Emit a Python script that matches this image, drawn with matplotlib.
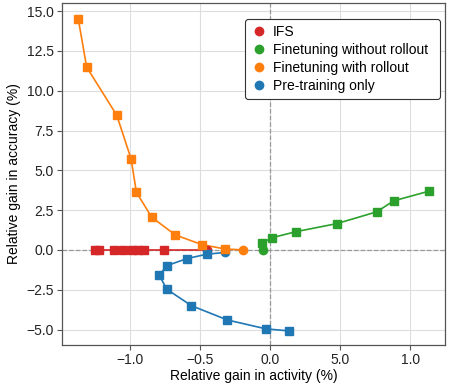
import numpy as np
import matplotlib
matplotlib.use('Agg')
import matplotlib.pyplot as plt
from matplotlib.lines import Line2D

plt.rcParams['font.family'] = ['Liberation Sans', 'DejaVu Sans']
plt.rcParams['font.size'] = 10

# IFS (last point = circle)
ifs_x = [-1.246, -1.218, -1.114, -1.043, -0.982, -0.943, -0.900, -0.755, -0.451]
ifs_y = [0.0, 0.0, 0.0, 0.0, 0.0, 0.0, 0.0, 0.0, 0.0]

# Finetuning without rollout (first point = circle)
ft_x = [-0.052, -0.060, 0.016, 0.187, 0.475, 0.759, 0.880, 1.132]
ft_y = [0.0, 0.42, 0.77, 1.15, 1.65, 2.39, 3.08, 3.69]

# Finetuning with rollout (last point = circle)
ftr_x = [-1.365, -1.305, -1.091, -0.989, -0.951, -0.842, -0.674, -0.484, -0.320, -0.190]
ftr_y = [14.51, 11.48, 8.46, 5.72, 3.62, 2.05, 0.94, 0.33, 0.06, 0.0]

# Pre-training only (first point = circle)
pt_x = [-0.320, -0.451, -0.593, -0.735, -0.788, -0.735, -0.560, -0.304, -0.028, 0.138]
pt_y = [-0.16, -0.27, -0.55, -0.99, -1.59, -2.47, -3.50, -4.40, -4.96, -5.09]

red = '#d62728'
green = '#2ca02c'
orange = '#ff7f0e'
blue = '#1f77b4'

xticks = [-1.0, -0.5, 0.0, 0.5, 1.0]
xticklabels = ['\u22121.0', '\u22120.5', '0.0', '5.0', '1.0']

fig = plt.figure(figsize=(4.5, 3.92), dpi=100)
ax = fig.add_axes([0.138, 0.120, 0.851, 0.872])

ax.axhline(0, color='#999999', ls='--', lw=0.9, zorder=1)
ax.axvline(0, color='#999999', ls='--', lw=0.9, zorder=1)


def series(x, y, color, circle_idx):
    ax.plot(x, y, '-', color=color, lw=1.2, zorder=2)
    sq = [i for i in range(len(x)) if i != circle_idx]
    ax.plot([x[i] for i in sq], [y[i] for i in sq], 's', color=color, ms=6, zorder=3)
    ax.plot([x[circle_idx]], [y[circle_idx]], 'o', color=color, ms=6, zorder=3)


series(ifs_x, ifs_y, red, len(ifs_x) - 1)
series(pt_x, pt_y, blue, 0)
series(ft_x, ft_y, green, 0)
series(ftr_x, ftr_y, orange, len(ftr_x) - 1)

ax.set_xlim(-1.48, 1.246)
ax.set_ylim(-5.97, 15.5)
ax.set_xticks(xticks)
ax.set_xticklabels(xticklabels)
ax.set_yticks(np.arange(-5, 15.1, 2.5))
ax.grid(True, color='#dddddd', lw=0.8, zorder=0)
ax.set_axisbelow(True)
for s in ax.spines.values():
    s.set_color('#555555')
    s.set_linewidth(0.9)
ax.tick_params(direction='out', length=3.5, width=0.8, pad=2.5, color='#555555', labelcolor='#222222')

ax.set_xlabel('Relative gain in activity (%)', labelpad=1.5)
ax.set_ylabel('Relative gain in accuracy (%)', labelpad=4)

handles = [Line2D([], [], marker='o', ls='none', color=c, ms=6) for c in (red, green, orange, blue)]
labels = ['IFS', 'Finetuning without rollout', 'Finetuning with rollout', 'Pre-training only']
leg = ax.legend(handles, labels, loc='upper right', bbox_to_anchor=(0.478, 0.5, 0.509, 0.453),
                mode='expand', borderaxespad=0,
                labelspacing=0.3, handletextpad=0.4, handlelength=1.2, borderpad=0.4,
                framealpha=1, fancybox=True)
leg.get_frame().set_edgecolor('#333333')
leg.get_frame().set_linewidth(0.8)

fig.savefig('out.png', dpi=100)
